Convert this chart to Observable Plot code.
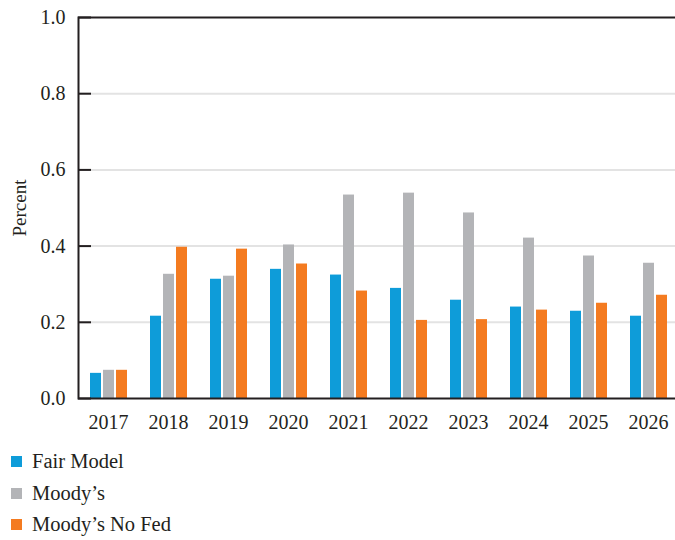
<!DOCTYPE html>
<html>
<head>
<meta charset="utf-8">
<script src="https://cdn.jsdelivr.net/npm/d3@7"></script>
<script src="https://cdn.jsdelivr.net/npm/@observablehq/plot@0.6"></script>
<style>
  html, body { margin: 0; padding: 0; background: white; overflow: hidden; }
  #chart { width: 675px; overflow: hidden; }
  .legend { font-family: "Liberation Serif", serif; font-size: 20.5px; color: #231f20; margin-top: 6px; }
  .legend .row { line-height: 31.5px; height: 31.5px; white-space: nowrap; }
  .legend .sw { display: inline-block; width: 11px; height: 11px; margin-left: 11px; margin-right: 10px; vertical-align: 1px; }
</style>
</head>
<body>
<div id="chart"></div>
<div class="legend" id="legend"></div>
<script>
const years = ["2017","2018","2019","2020","2021","2022","2023","2024","2025","2026"];
const fairModel   = [0.066,0.216,0.313,0.339,0.324,0.289,0.258,0.240,0.229,0.216];
const moodys      = [0.074,0.326,0.321,0.403,0.534,0.539,0.487,0.421,0.374,0.355];
const moodysNoFed = [0.074,0.397,0.392,0.353,0.282,0.205,0.207,0.232,0.250,0.271];
const seriesNames = ["Fair Model","Moody’s","Moody’s No Fed"];
const seriesColors = ["#0e9cd9","#b3b4b7","#f47b20"];
const yTicks = [0,0.2,0.4,0.6,0.8,1.0];
const gridTicks = [0.2,0.4,0.6,0.8];
const yLabel = "Percent";

const seriesValues = [fairModel, moodys, moodysNoFed];
const data = years.flatMap((year, i) =>
  seriesNames.map((name, s) => ({year, series: name, value: seriesValues[s][i]}))
);

const ink = "#231f20";

const chart = Plot.plot({
  width: 675,
  height: 440,
  marginLeft: 76,
  marginRight: -5,
  marginTop: 17,
  marginBottom: 42,
  style: {fontFamily: "Liberation Serif, serif", fontSize: "20px", color: ink, background: "white"},
  fx: {domain: years, padding: 0, label: null},
  x: {domain: seriesNames, paddingInner: 0.19, paddingOuter: 0.82, axis: null},
  y: {domain: [0, 1], label: null},
  color: {domain: seriesNames, range: seriesColors},
  marks: [
    Plot.gridY(gridTicks, {stroke: "#e3e3e3", strokeOpacity: 1, strokeWidth: 2}),
    Plot.barY(data, {fx: "year", x: "series", y: "value", fill: "series"}),
    Plot.frame({facet: "super", stroke: ink, strokeWidth: 2}),
    Plot.axisY(yTicks, {tickSize: -13, fill: "none", stroke: ink, strokeWidth: 2, label: null}),
    Plot.axisY(yTicks, {tickSize: 0, tickPadding: 13, tickFormat: d3.format(".1f"), fill: ink, label: null}),
    Plot.axisFx({anchor: "bottom", tickSize: 0, tickPadding: 16, fill: ink, label: null}),
    Plot.text([yLabel], {facet: "super", frameAnchor: "left", textAnchor: "middle", rotate: -90, dx: -59, fontSize: 19, fill: ink})
  ]
});
document.getElementById("chart").append(chart);

const legend = document.getElementById("legend");
seriesNames.forEach((name, i) => {
  const row = document.createElement("div");
  row.className = "row";
  const sw = document.createElement("span");
  sw.className = "sw";
  sw.style.background = seriesColors[i];
  row.append(sw, document.createTextNode(name));
  legend.append(row);
});
</script>
</body>
</html>
